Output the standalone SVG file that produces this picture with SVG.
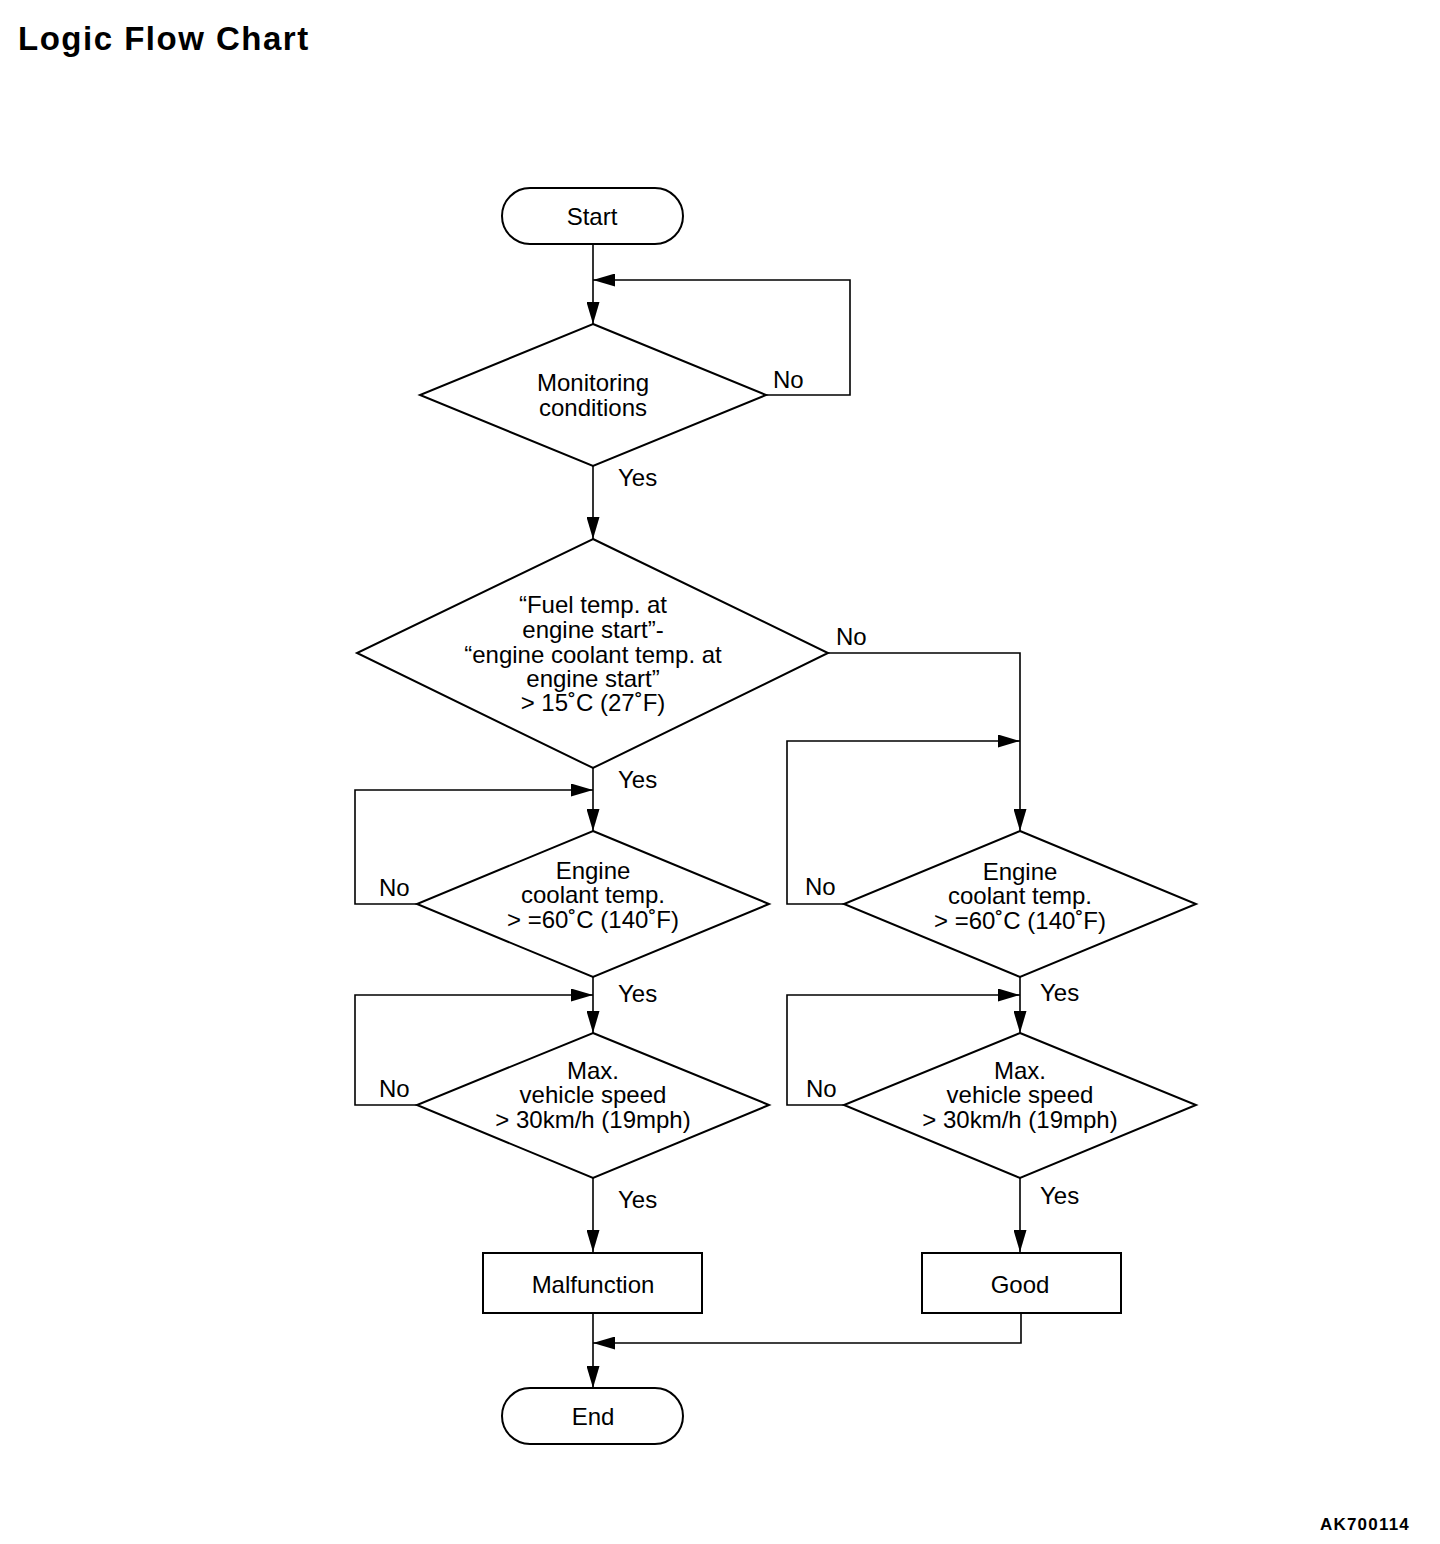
<svg xmlns="http://www.w3.org/2000/svg" width="1440" height="1544" viewBox="0 0 1440 1544">
<defs>
<style>
.shape{fill:#fff;stroke:#000;stroke-width:2}
.conn{fill:none;stroke:#000;stroke-width:1.6}
.t{font-family:"Liberation Sans",Arial,sans-serif;font-size:24px;fill:#000}
.c{text-anchor:middle}
.b{font-weight:bold}
</style>
<marker id="arr" markerUnits="userSpaceOnUse" markerWidth="22" markerHeight="13" refX="22" refY="6.5" orient="auto">
<path d="M0,0 L22,6.5 L0,13 z" fill="#000"/>
</marker>
</defs>
<rect width="1440" height="1544" fill="#fff"/>
<text class="t b" x="18" y="50" style="font-size:33px;letter-spacing:1.5px">Logic Flow Chart</text>
<text class="t b" x="1320" y="1530" style="font-size:17px;letter-spacing:1.2px">AK700114</text>

<g id="connectors">
<polyline class="conn" points="593,244 593,324" marker-end="url(#arr)"/>
<polyline class="conn" points="766,395 850,395 850,280 593,280" marker-end="url(#arr)"/>
<polyline class="conn" points="593,466 593,539" marker-end="url(#arr)"/>
<polyline class="conn" points="593,768 593,831" marker-end="url(#arr)"/>
<polyline class="conn" points="417,904 355,904 355,790 593,790" marker-end="url(#arr)"/>
<polyline class="conn" points="593,977 593,1033" marker-end="url(#arr)"/>
<polyline class="conn" points="417,1105 355,1105 355,995 593,995" marker-end="url(#arr)"/>
<polyline class="conn" points="593,1178 593,1252" marker-end="url(#arr)"/>
<polyline class="conn" points="593,1313 593,1388" marker-end="url(#arr)"/>
<polyline class="conn" points="1021,1313 1021,1343 593,1343" marker-end="url(#arr)"/>
<polyline class="conn" points="828,653 1020,653 1020,831" marker-end="url(#arr)"/>
<polyline class="conn" points="844,904 787,904 787,741 1020,741" marker-end="url(#arr)"/>
<polyline class="conn" points="1020,977 1020,1033" marker-end="url(#arr)"/>
<polyline class="conn" points="844,1105 787,1105 787,995 1020,995" marker-end="url(#arr)"/>
<polyline class="conn" points="1020,1178 1020,1252" marker-end="url(#arr)"/>
<text class="t" x="773" y="388">No</text>
<text class="t" x="618" y="486">Yes</text>
<text class="t" x="836" y="645">No</text>
<text class="t" x="618" y="788">Yes</text>
<text class="t" x="379" y="896">No</text>
<text class="t" x="618" y="1002">Yes</text>
<text class="t" x="379" y="1097">No</text>
<text class="t" x="618" y="1208">Yes</text>
<text class="t" x="805" y="895">No</text>
<text class="t" x="1040" y="1001">Yes</text>
<text class="t" x="806" y="1097">No</text>
<text class="t" x="1040" y="1204">Yes</text>
</g>

<g id="start">
<rect class="shape" x="502" y="188" width="181" height="56" rx="28" ry="28"/>
<text class="t c" x="592" y="225">Start</text>
</g>

<g id="monitoring">
<polygon class="shape" points="593,324 766,395 593,466 420,395"/>
<text class="t c" x="593" y="391">Monitoring</text>
<text class="t c" x="593" y="416">conditions</text>
</g>

<g id="fueltemp">
<polygon class="shape" points="593,539 828,653 593,768 357,653"/>
<text class="t c" x="593" y="613">“Fuel temp. at</text>
<text class="t c" x="593" y="638">engine start”-</text>
<text class="t c" x="593" y="663">“engine coolant temp. at</text>
<text class="t c" x="593" y="687">engine start”</text>
<text class="t c" x="593" y="711">&gt; 15˚C (27˚F)</text>
</g>

<g id="coolant-left">
<polygon class="shape" points="593,831 769,904 593,977 417,904"/>
<text class="t c" x="593" y="879">Engine</text>
<text class="t c" x="593" y="903">coolant temp.</text>
<text class="t c" x="593" y="928">&gt; =60˚C (140˚F)</text>
</g>

<g id="speed-left">
<polygon class="shape" points="593,1033 769,1105 593,1178 417,1105"/>
<text class="t c" x="593" y="1079">Max.</text>
<text class="t c" x="593" y="1103">vehicle speed</text>
<text class="t c" x="593" y="1128">&gt; 30km/h (19mph)</text>
</g>

<g id="malfunction">
<rect class="shape" x="483" y="1253" width="219" height="60"/>
<text class="t c" x="593" y="1293">Malfunction</text>
</g>

<g id="end">
<rect class="shape" x="502" y="1388" width="181" height="56" rx="28" ry="28"/>
<text class="t c" x="593" y="1425">End</text>
</g>

<g id="coolant-right">
<polygon class="shape" points="1020,831 1196,904 1020,977 844,904"/>
<text class="t c" x="1020" y="880">Engine</text>
<text class="t c" x="1020" y="904">coolant temp.</text>
<text class="t c" x="1020" y="929">&gt; =60˚C (140˚F)</text>
</g>

<g id="speed-right">
<polygon class="shape" points="1020,1033 1196,1105 1020,1178 844,1105"/>
<text class="t c" x="1020" y="1079">Max.</text>
<text class="t c" x="1020" y="1103">vehicle speed</text>
<text class="t c" x="1020" y="1128">&gt; 30km/h (19mph)</text>
</g>

<g id="good">
<rect class="shape" x="922" y="1253" width="199" height="60"/>
<text class="t c" x="1020" y="1293">Good</text>
</g>
</svg>
